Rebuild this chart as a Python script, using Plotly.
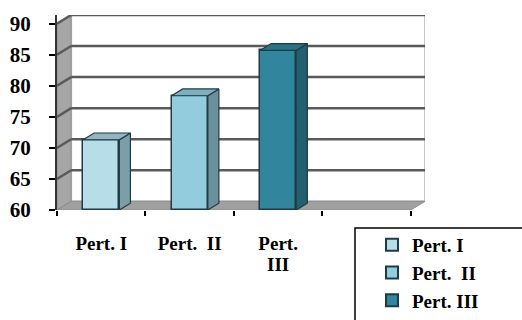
import plotly.graph_objects as go

categories = ["Pert. I", "Pert.  II", "Pert.<br>III", ""]
series_names = ["Pert. I", "Pert.  II", "Pert. III"]
values = [71.3, 78.4, 85.7]
front_colors = ["#b7dde8", "#93cddd", "#31859c"]
side_colors = ["#7d9ea9", "#6b8f9b", "#22606f"]
top_colors = ["#94b5c0", "#7faebc", "#2a7386"]
y_ticks = [60, 65, 70, 75, 80, 85, 90]

Y0, Y1 = 60, 90
NCAT = len(categories)
DX, DY = 0.16, 1.4        # wall depth (data units)
BDX, BDY = 0.125, 1.1     # bar depth
BW = 0.41
OUTLINE = "#1f3b44"

# plot area in pixels (for paper-coordinate conversions)
L, R, T, B = 57, 97, 15, 110
W, H = 522, 320
PW, PH = W - L - R, H - T - B
def px(x):
    return (x - L) / PW
def py(y):
    return (H - B - y) / PH

fig = go.Figure()

# back wall, left wall, floor
xl, xr = -0.5, NCAT - 0.5
fig.add_shape(type="path", xref="x", yref="y",
              path=f"M{xl+DX},{Y0+DY} L{xr+DX},{Y0+DY} L{xr+DX},{Y1+DY} L{xl+DX},{Y1+DY} Z",
              fillcolor="white", line=dict(color="#c8c8c8", width=2), layer="below")
fig.add_shape(type="path", xref="x", yref="y",
              path=f"M{xl},{Y0} L{xl+DX},{Y0+DY} L{xl+DX},{Y1+DY} L{xl},{Y1} Z",
              fillcolor="#a6a6a6", line=dict(color="#8c8c8c", width=1), layer="below")
fig.add_shape(type="path", xref="x", yref="y",
              path=f"M{xl},{Y0} L{xr},{Y0} L{xr+DX},{Y0+DY} L{xl+DX},{Y0+DY} Z",
              fillcolor="#a0a0a0", line=dict(color="#8c8c8c", width=1), layer="below")
for t in y_ticks[1:]:
    fig.add_shape(type="line", xref="x", yref="y", x0=xl+DX, x1=xr+DX, y0=t+DY, y1=t+DY,
                  line=dict(color="#5a5a5a", width=2.5), layer="below")
    fig.add_shape(type="line", xref="x", yref="y", x0=xl, x1=xl+DX, y0=t, y1=t+DY,
                  line=dict(color="#5a5a5a", width=2.5), layer="below")

# legend frame (extends past the figure edge as in the reference)
fig.add_shape(type="rect", xref="paper", yref="paper",
              x0=px(355), x1=px(540), y0=py(340), y1=py(228),
              line=dict(color="black", width=1.5), fillcolor="white", layer="below")

# bars
for i, (name, v) in enumerate(zip(series_names, values)):
    fig.add_trace(go.Bar(x=[i], y=[v - Y0], base=[Y0], width=BW,
                         name=f"<b>{name}</b>",
                         marker=dict(color=front_colors[i], line=dict(color=OUTLINE, width=1.5))))
    xr_ = i + BW / 2
    xl_ = i - BW / 2
    fig.add_trace(go.Scatter(x=[xr_, xr_ + BDX, xr_ + BDX, xr_, xr_],
                             y=[Y0, Y0 + BDY, v + BDY, v, Y0],
                             fill="toself", fillcolor=side_colors[i], mode="lines",
                             line=dict(color=OUTLINE, width=1.2), showlegend=False, hoverinfo="skip"))
    fig.add_trace(go.Scatter(x=[xl_, xr_, xr_ + BDX, xl_ + BDX, xl_],
                             y=[v, v, v + BDY, v + BDY, v],
                             fill="toself", fillcolor=top_colors[i], mode="lines",
                             line=dict(color=OUTLINE, width=1.2), showlegend=False, hoverinfo="skip"))

# overlay axis for boundary ticks
fig.add_trace(go.Scatter(x=[xl], y=[Y0], xaxis="x2", mode="markers",
                         marker=dict(opacity=0), showlegend=False, hoverinfo="skip"))

font_serif = "Liberation Serif"
fig.update_layout(
    width=W, height=H,
    margin=dict(l=L, r=R, t=T, b=B, autoexpand=False),
    paper_bgcolor="white", plot_bgcolor="rgba(0,0,0,0)",
    barmode="overlay", bargap=0,
    font=dict(family=font_serif, size=20, color="black"),
    xaxis=dict(range=[xl, xr + DX], tickvals=list(range(NCAT)),
               ticktext=["<br>".join(f"<span style='font-size:19px'><b>{part}</b></span>" for part in c.split("<br>")) if c else "" for c in categories],
               ticks="", showgrid=False, zeroline=False, showline=False,
               tickfont=dict(size=16, family=font_serif), ticklabelstandoff=23),
    xaxis2=dict(range=[xl, xr + DX], overlaying="x", side="bottom",
                tickvals=[k - 0.5 for k in range(NCAT + 1)], ticktext=[""] * (NCAT + 1),
                ticks="outside", ticklen=5, tickwidth=2, tickcolor="black",
                showgrid=False, zeroline=False, showline=False),
    yaxis=dict(range=[Y0, Y1 + DY], tickvals=y_ticks, ticktext=[f"<b>{t}</b>" for t in y_ticks],
               ticks="outside", ticklen=6, tickwidth=2, tickcolor="black",
               showgrid=False, zeroline=False, showline=True, linecolor="#333", linewidth=2,
               tickfont=dict(size=21, family=font_serif), ticklabelstandoff=14),
    legend=dict(x=px(372), y=py(226), xanchor="left", yanchor="top",
                borderwidth=0, bgcolor="rgba(0,0,0,0)",
                font=dict(size=19, family=font_serif, color="black"),
                tracegroupgap=0, itemsizing="constant"),
    showlegend=True,
)

fig.write_html("out.html")
